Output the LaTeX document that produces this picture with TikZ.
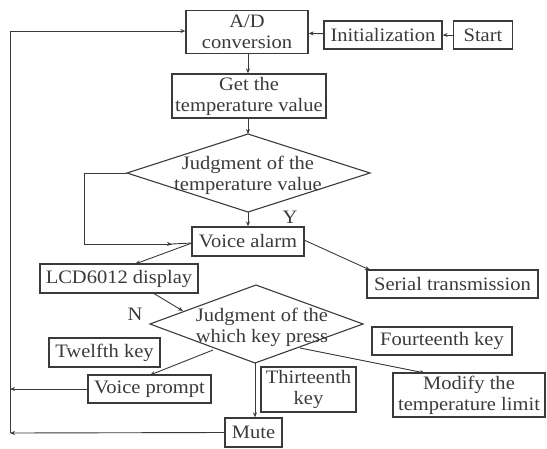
\documentclass[tikz,border=0pt]{standalone}
\usepackage{fontspec}
\setmainfont{Liberation Serif}[FakeStretch=1.08]
\usetikzlibrary{arrows.meta}
\definecolor{ink}{HTML}{3A3A3A}
\begin{document}
\begin{tikzpicture}[x=1pt,y=-1pt,
  box/.style={draw=ink, line width=1.3pt, inner sep=0pt, align=center, text=ink,
    font=\fontsize{19}{21}\selectfont},
  lbl/.style={inner sep=0pt, align=center, text=ink, font=\fontsize{19}{21}\selectfont},
  conn/.style={draw=ink, line width=0.9pt, -{Stealth[length=5pt,width=4pt]}},
  plain/.style={draw=ink, line width=0.9pt},
  dia/.style={draw=ink, line width=1.1pt}]
\useasboundingbox (0,0) rectangle (547,448);
% boxes
\node[box, minimum width=122pt, minimum height=43pt] (ad) at (247,32) {A/D\\conversion};
\node[box, minimum width=118pt, minimum height=28pt] (init) at (383,35) {Initialization};
\node[box, minimum width=59pt, minimum height=28pt] (start) at (483,35) {Start};
\node[box, minimum width=154pt, minimum height=44pt] (get) at (249,96) {Get the\\temperature value};
% diamond 1
\coordinate (d1t) at (248,134);
\coordinate (d1l) at (127,173);
\coordinate (d1r) at (370,173);
\coordinate (d1b) at (248,212);
\draw[dia] (d1t) -- (d1r) -- (d1b) -- (d1l) -- cycle;
\node[lbl] (d1txt) at (248,175) {Judgment of the\\temperature value};
\node[box, minimum width=112pt, minimum height=29pt] (va) at (248,241.5) {Voice alarm};
\node[box, minimum width=171pt, minimum height=28pt] (ser) at (452.5,284) {Serial transmission};
\node[box, minimum width=158pt, minimum height=29pt] (lcd) at (119,278.5) {LCD6012 display};
% diamond 2
\coordinate (d2t) at (256,285);
\coordinate (d2l) at (150,324);
\coordinate (d2r) at (363,324);
\coordinate (d2b) at (255,363);
\draw[dia] (d2t) -- (d2r) -- (d2b) -- (d2l) -- cycle;
\node[lbl] (d2txt) at (262,327) {Judgment of the\\which key press};
\node[box, minimum width=111pt, minimum height=29pt] (tw) at (104.5,352.5) {Twelfth key};
\node[box, minimum width=123pt, minimum height=28pt] (vp) at (149.5,389) {Voice prompt};
\node[box, minimum width=57pt, minimum height=29pt] (mute) at (253.5,432.5) {Mute};
\node[box, minimum width=95pt, minimum height=45pt] (th) at (308.5,389.5) {Thirteenth\\key};
\node[box, minimum width=140pt, minimum height=28pt] (fo) at (442,341) {Fourteenth key};
\node[box, minimum width=152pt, minimum height=44pt] (mod) at (469,395) {Modify the\\temperature limit};
% labels
\node[lbl] (ylbl) at (290,217) {Y};
\node[lbl] (nlbl) at (135,314) {N};
% coordinates for connectors
\coordinate (loopA) at (84,173);
\coordinate (loopB) at (84,244);
\coordinate (loopC) at (172,244);
\coordinate (vaL) at (192,243);
\coordinate (lcdT) at (135,264);
\coordinate (vaR) at (304,240);
\coordinate (serT) at (370,270);
\coordinate (lcdB) at (153,293);
\coordinate (d2e) at (183,311);
\coordinate (d2ll) at (213,350);
\coordinate (vpT) at (150,375);
\coordinate (d2lr) at (300,348);
\coordinate (modT) at (425,373);
\coordinate (leftVP) at (10,389);
\coordinate (leftMute) at (10,433);
\coordinate (leftTop) at (10,31);
% connectors
\draw[conn] (start) -- (init);
\draw[conn] (init) -- (ad);
\draw[conn] (ad.south -| d1t) -- (get.north -| d1t);
\draw[conn] (get.south -| d1t) -- (d1t);
\draw[conn] (d1b) -- (va.north -| d1b);
\draw[plain] (d1l) -- (loopA) -- (loopB) -- (loopC);
\draw[conn] (loopB) -- (loopC);
\draw[plain] (loopC) -- (vaL);
\draw[conn] (vaL) -- (lcdT);
\draw[conn] (vaR) -- (serT);
\draw[conn] (lcdB) -- (d2e);
\draw[conn] (d2ll) -- (vpT);
\draw[conn] (d2b) -- (mute.north -| d2b);
\draw[conn] (d2lr) -- (modT);
\draw[conn] (vp.west) -- (leftVP);
\draw[conn] (mute.west) -- (leftMute);
\draw[plain] (leftMute) -- (leftTop);
\draw[conn] (leftTop) -- (ad.west |- leftTop);
\end{tikzpicture}
\end{document}
